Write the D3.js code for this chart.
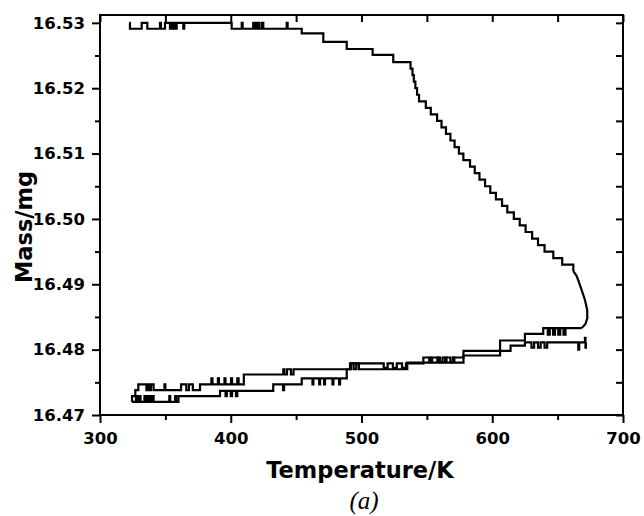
<!DOCTYPE html>
<html>
<head>
<meta charset="utf-8">
<script src="https://cdn.jsdelivr.net/npm/d3@7"></script>
<style>
  body { margin: 0; background: #fff; }
  svg { display: block; }
  .tick text { font-family: "DejaVu Sans", sans-serif; font-weight: bold; font-size: 16.5px; fill: #000; }
  .tick line { stroke: #000; stroke-width: 2; }
</style>
</head>
<body>
<div id="chart"></div>
<script>
// TG trace: temperature (K) and mass (mg)
// first heating, drawn as a step trace
const heatTemp = [322.4, 322.9, 331.9, 336.2, 345.9, 346.6, 349.7, 353.5, 354.5, 355.5, 356.5, 357.5, 358.6,
  363.7, 364.4, 400.7, 408.4, 409.1, 417.2, 418.5, 420.0, 421.5, 423.5, 424.9, 442.8, 443.5,
  454.3, 470.8, 488.7, 508.5, 524.3, 537.5, 539.0, 540.0, 541.2, 542.5, 544.0, 549.2, 553.0,
  557.8, 561.2, 564.6, 568.0, 571.2, 574.5, 577.9, 583.0, 586.6, 590.2, 594.5, 598.5, 602.8,
  607.5, 611.5, 616.5, 621.0, 625.5, 630.5, 635.0, 640.0, 646.7, 653.5, 662.0]
const heatMass = [16.5300, 16.5291, 16.5300, 16.5291, 16.5300, 16.5291, 16.5300, 16.5291, 16.5300, 16.5291, 16.5300, 16.5291, 16.5300,
  16.5291, 16.5300, 16.5291, 16.5300, 16.5291, 16.5300, 16.5291, 16.5300, 16.5291, 16.5300, 16.5291, 16.5300, 16.5291,
  16.5284, 16.5271, 16.5260, 16.5251, 16.5240, 16.5230, 16.5220, 16.5210, 16.5200, 16.5190, 16.5180, 16.5170, 16.5160,
  16.5150, 16.5140, 16.5130, 16.5120, 16.5110, 16.5100, 16.5090, 16.5080, 16.5070, 16.5060, 16.5050, 16.5040, 16.5030,
  16.5020, 16.5010, 16.5000, 16.4990, 16.4980, 16.4970, 16.4960, 16.4950, 16.4940, 16.4930, 16.4920]

// turning point at the top temperature
const noseTemp = [662.0, 664.5, 666.0, 668.4, 670.9, 672.6, 672.7, 671.2, 668.4]
const noseMass = [16.4920, 16.4913, 16.4905, 16.4891, 16.4876, 16.4861, 16.4848, 16.4839, 16.4833]

// cooling back down (upper return line)
const coolTemp = [668.4, 656.0, 654.5, 652.0, 650.5, 648.0, 646.5, 644.0, 642.5, 639.0, 625.0, 606.0,
  578.0, 570.0, 568.0, 562.0, 560.0, 554.0, 552.0, 547.3, 534.0, 531.0, 527.0, 524.0, 520.0, 517.0,
  491.2, 448.0, 446.0, 443.0, 441.0, 440.2, 410.0, 406.0, 405.0, 401.0, 400.2, 396.0, 395.2, 391.0,
  390.2, 386.0, 385.2, 376.5, 371.0, 368.0, 366.0, 362.0, 350.0, 349.3, 341.0, 339.0, 338.0, 336.5,
  335.5, 329.3, 327.0, 324.5]
const coolMass = [16.4833, 16.4823, 16.4833, 16.4823, 16.4833, 16.4823, 16.4833, 16.4823, 16.4833, 16.4824, 16.4814, 16.4798,
  16.4788, 16.4781, 16.4788, 16.4781, 16.4788, 16.4781, 16.4788, 16.4779, 16.4772, 16.4779, 16.4772, 16.4779, 16.4772, 16.4779,
  16.4770, 16.4762, 16.4770, 16.4762, 16.4770, 16.4762, 16.4747, 16.4756, 16.4747, 16.4756, 16.4747, 16.4756, 16.4747, 16.4756,
  16.4747, 16.4756, 16.4747, 16.4738, 16.4747, 16.4738, 16.4747, 16.4738, 16.4747, 16.4738, 16.4747, 16.4738, 16.4747, 16.4738,
  16.4747, 16.4738, 16.4729, 16.4720]

// second heating (lower return line)
const reheatTemp = [324.5, 327.5, 328.5, 330.0, 331.0, 334.0, 335.0, 336.0, 337.0, 338.0, 339.0, 340.0, 341.0,
  353.0, 353.7, 357.5, 358.2, 360.0, 391.8, 396.0, 397.0, 400.0, 401.0, 404.0, 405.0, 432.5, 440.0, 440.8,
  454.3, 462.5, 463.2, 467.6, 468.3, 471.4, 472.1, 477.8, 478.5, 482.9, 483.6, 488.7, 492.0, 494.0, 496.0,
  498.0, 535.0, 552.0, 553.0, 558.0, 559.0, 564.0, 565.0, 570.0, 571.0, 578.0, 606.0, 614.0, 625.0,
  630.0, 632.0, 635.0, 637.0, 640.0, 642.0, 665.8, 666.5, 670.9, 671.3, 671.6]
const reheatMass = [16.4720, 16.4729, 16.4720, 16.4729, 16.4720, 16.4729, 16.4720, 16.4729, 16.4720, 16.4729, 16.4720, 16.4729, 16.4720,
  16.4729, 16.4720, 16.4729, 16.4720, 16.4729, 16.4737, 16.4729, 16.4737, 16.4729, 16.4737, 16.4729, 16.4737, 16.4747, 16.4738, 16.4747,
  16.4756, 16.4747, 16.4756, 16.4747, 16.4756, 16.4747, 16.4756, 16.4747, 16.4756, 16.4747, 16.4756, 16.4770, 16.4779, 16.4770, 16.4779,
  16.4770, 16.4780, 16.4788, 16.4780, 16.4788, 16.4780, 16.4788, 16.4780, 16.4788, 16.4780, 16.4791, 16.4798, 16.4806, 16.4811,
  16.4803, 16.4811, 16.4803, 16.4811, 16.4803, 16.4811, 16.4800, 16.4811, 16.4818, 16.4803, 16.4811]

const xTicks = [300, 400, 500, 600, 700]
const xMinor = [350, 450, 550, 650]
const yTicks = [16.47, 16.48, 16.49, 16.50, 16.51, 16.52, 16.53]
const yMinor = [16.475, 16.485, 16.495, 16.505, 16.515, 16.525]

const W = 644, H = 516
const plotL = 100, plotR = 623, plotT = 15, plotB = 415

const svg = d3.select('#chart').append('svg')
  .attr('width', W)
  .attr('height', H)

const x = d3.scaleLinear().domain([300, 700]).range([plotL, plotR])
const y = d3.scaleLinear().domain([16.47, 16.5312]).range([plotB, plotT])

// axes: outer ticks on bottom/left, inner ticks on top/right
svg.append('g').attr('class', 'xaxis').attr('transform', `translate(0,${plotB})`)
  .call(d3.axisBottom(x).tickValues(xTicks).tickSize(8).tickFormat(d3.format('d')))
svg.append('g').attr('transform', `translate(0,${plotB})`)
  .call(d3.axisBottom(x).tickValues(xMinor).tickSize(5).tickFormat(''))
svg.append('g').attr('transform', `translate(0,${plotT})`)
  .call(d3.axisTop(x).tickValues(xTicks.concat(xMinor)).tickSize(-7).tickFormat(''))

svg.append('g').attr('class', 'yaxis').attr('transform', `translate(${plotL},0)`)
  .call(d3.axisLeft(y).tickValues(yTicks).tickSize(8).tickPadding(7).tickFormat(d3.format('.2f')))
svg.append('g').attr('transform', `translate(${plotL},0)`)
  .call(d3.axisLeft(y).tickValues(yMinor).tickSize(5).tickFormat(''))
svg.append('g').attr('transform', `translate(${plotR},0)`)
  .call(d3.axisRight(y).tickValues(yTicks.concat(yMinor)).tickSize(-7).tickFormat(''))

svg.selectAll('.domain').remove()
svg.selectAll('.xaxis text').attr('y', 29).attr('dy', null)

// frame
svg.append('rect')
  .attr('x', plotL).attr('y', plotT)
  .attr('width', plotR - plotL).attr('height', plotB - plotT)
  .attr('fill', 'none').attr('stroke', '#000').attr('stroke-width', 2)

const stepLine = d3.line()
  .x(d => x(d[0]))
  .y(d => y(d[1]))
  .curve(d3.curveStepAfter)
const smoothLine = d3.line()
  .x(d => x(d[0]))
  .y(d => y(d[1]))

const traces = [
  {pts: d3.zip(heatTemp, heatMass), gen: stepLine},
  {pts: d3.zip(noseTemp, noseMass), gen: smoothLine},
  {pts: d3.zip(coolTemp, coolMass), gen: stepLine},
  {pts: d3.zip(reheatTemp, reheatMass), gen: stepLine}
]

svg.append('g').selectAll('path.trace')
  .data(traces)
  .enter()
  .append('path')
  .attr('class', 'trace')
  .attr('d', d => d.gen(d.pts))
  .attr('fill', 'none')
  .attr('stroke', '#000')
  .attr('stroke-width', 2.2)
  .attr('stroke-linejoin', 'miter')

// titles
svg.append('text')
  .attr('x', 360).attr('y', 478)
  .attr('text-anchor', 'middle')
  .style('font-family', '"DejaVu Sans", sans-serif')
  .style('font-weight', 'bold')
  .style('font-size', '22.5px')
  .text('Temperature/K')

svg.append('text')
  .attr('transform', 'translate(32,227) rotate(-90)')
  .attr('text-anchor', 'middle')
  .style('font-family', '"DejaVu Sans", sans-serif')
  .style('font-weight', 'bold')
  .style('font-size', '22.5px')
  .text('Mass/mg')

svg.append('text')
  .attr('x', 364).attr('y', 509)
  .attr('text-anchor', 'middle')
  .style('font-family', '"Liberation Serif", serif')
  .style('font-style', 'italic')
  .style('font-size', '25px')
  .text('(a)')
</script>
</body>
</html>
